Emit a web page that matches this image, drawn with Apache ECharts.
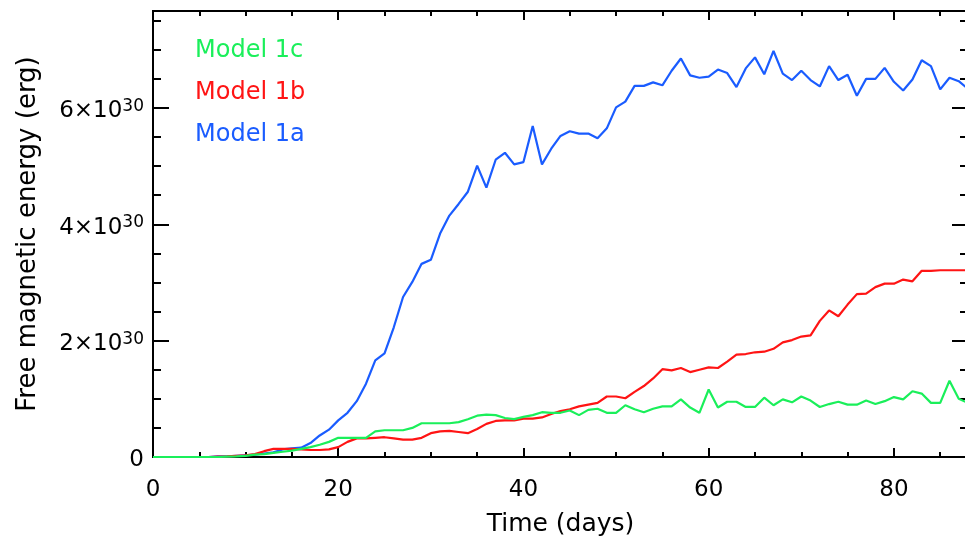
<!DOCTYPE html>
<html>
<head>
<meta charset="utf-8">
<script src="https://cdn.jsdelivr.net/npm/echarts@6/dist/echarts.min.js"></script>
<style>
  html, body { margin: 0; padding: 0; background: #fff; }
  #chart { width: 965px; height: 539px; }
</style>
</head>
<body>
<div id="chart"></div>
<script>
// time axis (days)
const days = [0, 1, 2, 3, 4, 5, 6, 7, 8, 9, 10, 11, 12, 13, 14, 15, 16, 17, 18, 19,
  20, 21, 22, 23, 24, 25, 26, 27, 28, 29, 30, 31, 32, 33, 34, 35, 36, 37, 38, 39,
  40, 41, 42, 43, 44, 45, 46, 47, 48, 49, 50, 51, 52, 53, 54, 55, 56, 57, 58, 59,
  60, 61, 62, 63, 64, 65, 66, 67, 68, 69, 70, 71, 72, 73, 74, 75, 76, 77, 78, 79,
  80, 81, 82, 83, 84, 85, 86, 87, 88];

// free magnetic energy, units of 10^30 erg
const model1a = [0, 0, 0, 0, 0, 0, 0, 0.01, 0.01, 0.02,
  0.03, 0.04, 0.06, 0.08, 0.13, 0.15, 0.16, 0.24, 0.37, 0.47,
  0.63, 0.76, 0.96, 1.26, 1.66, 1.78, 2.23, 2.75, 3.01, 3.32,
  3.39, 3.84, 4.15, 4.35, 4.56, 5.01, 4.63, 5.11, 5.23, 5.03,
  5.07, 5.69, 5.03, 5.30, 5.52, 5.60, 5.56, 5.56, 5.48, 5.65,
  6.01, 6.11, 6.38, 6.38, 6.44, 6.39, 6.64, 6.85, 6.56, 6.52,
  6.54, 6.66, 6.60, 6.36, 6.68, 6.87, 6.58, 6.98, 6.59, 6.48,
  6.64, 6.48, 6.37, 6.72, 6.48, 6.57, 6.21, 6.50, 6.50, 6.69,
  6.45, 6.30, 6.49, 6.82, 6.72, 6.32, 6.52, 6.46, 6.33];

const model1b = [0, 0, 0, 0, 0, 0, 0, 0.005, 0.01, 0.02,
  0.03, 0.05, 0.10, 0.14, 0.14, 0.14, 0.13, 0.12, 0.12, 0.13,
  0.17, 0.26, 0.32, 0.32, 0.33, 0.34, 0.32, 0.30, 0.30, 0.33,
  0.41, 0.44, 0.45, 0.43, 0.41, 0.48, 0.57, 0.62, 0.63, 0.63,
  0.66, 0.66, 0.68, 0.74, 0.79, 0.82, 0.87, 0.90, 0.93, 1.04,
  1.04, 1.01, 1.12, 1.22, 1.35, 1.51, 1.49, 1.53, 1.46, 1.50,
  1.54, 1.53, 1.64, 1.76, 1.77, 1.80, 1.81, 1.86, 1.97, 2.01,
  2.07, 2.09, 2.34, 2.52, 2.42, 2.62, 2.80, 2.81, 2.92, 2.98,
  2.98, 3.05, 3.02, 3.20, 3.20, 3.21, 3.21, 3.21, 3.21];

const model1c = [0, 0, 0, 0, 0, 0, 0, 0, 0.005, 0.01,
  0.02, 0.04, 0.05, 0.07, 0.09, 0.11, 0.14, 0.17, 0.21, 0.26,
  0.33, 0.33, 0.33, 0.33, 0.44, 0.46, 0.46, 0.46, 0.50, 0.58,
  0.58, 0.58, 0.58, 0.60, 0.65, 0.71, 0.73, 0.72, 0.67, 0.65,
  0.69, 0.72, 0.77, 0.76, 0.76, 0.80, 0.72, 0.81, 0.83, 0.76,
  0.76, 0.89, 0.82, 0.77, 0.83, 0.87, 0.87, 0.99, 0.85, 0.76,
  1.16, 0.85, 0.95, 0.95, 0.86, 0.86, 1.02, 0.89, 0.99, 0.94,
  1.04, 0.97, 0.86, 0.91, 0.95, 0.90, 0.90, 0.97, 0.91, 0.96,
  1.03, 0.99, 1.13, 1.09, 0.93, 0.93, 1.31, 1.00, 0.93];

const xMajorLabels = [0, 20, 40, 60, 80];
const yMajorLabels = [0, 2, 4, 6];

const BLUE = '#1a5cff';
const RED = '#ff1414';
const GREEN = '#1aef5a';
const FONT = 'DejaVu Sans';

const chart = echarts.init(document.getElementById('chart'));

const pairs = (ys) => days.map((d, i) => [d, ys[i]]);

const axisLine = { show: true, onZero: false, lineStyle: { color: '#000', width: 2 } };
const tick = (len) => ({ inside: true, length: len, lineStyle: { color: '#000', width: 2 } });

// x axes: bottom / top, majors every 20, minors every 5
const xBase = { type: 'value', min: 0, max: 88, splitLine: { show: false }, axisLine: axisLine };
const xAxes = [
  Object.assign({}, xBase, {
    position: 'bottom', interval: 20,
    name: 'Time (days)', nameLocation: 'middle', nameGap: 55,
    nameTextStyle: { fontFamily: FONT, fontSize: 25, color: '#000' },
    axisTick: tick(9),
    axisLabel: {
      margin: 22, fontFamily: FONT, fontSize: 23, color: '#000',
      formatter: v => xMajorLabels.includes(v) ? String(v) : ''
    }
  }),
  Object.assign({}, xBase, { position: 'bottom', interval: 5, axisTick: tick(5), axisLabel: { show: false } }),
  Object.assign({}, xBase, { position: 'top', interval: 20, axisTick: tick(9), axisLabel: { show: false } }),
  Object.assign({}, xBase, { position: 'top', interval: 5, axisTick: tick(5), axisLabel: { show: false } })
];

// y axes: left / right, majors every 2, minors every 0.5
const yBase = { type: 'value', min: 0, max: 7.667, splitLine: { show: false }, axisLine: axisLine };
const yAxes = [
  Object.assign({}, yBase, {
    position: 'left', interval: 2,
    name: 'Free magnetic energy (erg)', nameLocation: 'middle', nameGap: 112,
    nameTextStyle: { fontFamily: FONT, fontSize: 26, color: '#000' },
    axisTick: tick(16),
    axisLabel: {
      margin: 9, fontFamily: FONT, fontSize: 23, color: '#000',
      formatter: v => {
        if (!yMajorLabels.includes(v)) return '';
        return v === 0 ? '{b|0}' : '{b|' + v + '×10}{s|30}';
      },
      rich: {
        b: { fontFamily: FONT, fontSize: 23, color: '#000', verticalAlign: 'bottom', lineHeight: 30 },
        s: { fontFamily: FONT, fontSize: 17, color: '#000', verticalAlign: 'top', padding: [5, 0, 0, 0] }
      }
    }
  }),
  Object.assign({}, yBase, { position: 'left', interval: 0.5, axisTick: tick(8), axisLabel: { show: false } }),
  Object.assign({}, yBase, { position: 'right', interval: 2, axisTick: tick(16), axisLabel: { show: false } }),
  Object.assign({}, yBase, { position: 'right', interval: 0.5, axisTick: tick(8), axisLabel: { show: false } })
];

const option = {
  animation: false,
  backgroundColor: '#fff',
  grid: { left: 153, top: 11, width: 815, height: 446, containLabel: false, outerBoundsMode: 'none' },
  legend: {
    orient: 'vertical', left: 185, top: 34,
    icon: 'none', itemWidth: 0, itemHeight: 24, itemGap: 18,
    selectedMode: false,
    textStyle: { fontFamily: FONT, fontSize: 24 },
    data: [
      { name: 'Model 1c', textStyle: { color: GREEN } },
      { name: 'Model 1b', textStyle: { color: RED } },
      { name: 'Model 1a', textStyle: { color: BLUE } }
    ]
  },
  xAxis: xAxes,
  yAxis: yAxes,
  series: [
    { name: 'Model 1a', type: 'line', data: pairs(model1a), showSymbol: false,
      lineStyle: { color: BLUE, width: 2.2 }, itemStyle: { color: BLUE } },
    { name: 'Model 1b', type: 'line', data: pairs(model1b), showSymbol: false,
      lineStyle: { color: RED, width: 2.2 }, itemStyle: { color: RED } },
    { name: 'Model 1c', type: 'line', data: pairs(model1c), showSymbol: false,
      lineStyle: { color: GREEN, width: 2.2 }, itemStyle: { color: GREEN } }
  ]
};

chart.setOption(option);
</script>
</body>
</html>
